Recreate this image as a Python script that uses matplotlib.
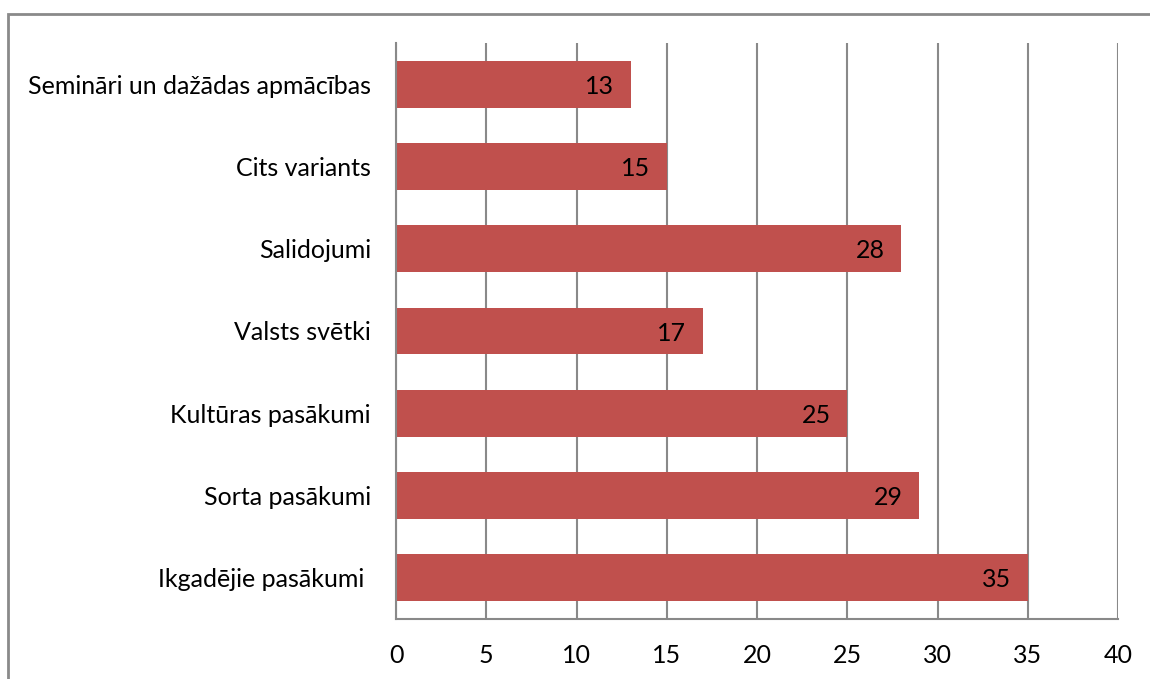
import matplotlib
matplotlib.use("Agg")
import matplotlib.pyplot as plt
from matplotlib.patches import Rectangle

categories = ["Ikgadējie pasākumi ", "Sorta pasākumi", "Kultūras pasākumi",
              "Valsts svētki", "Salidojumi", "Cits variants",
              "Semināri un dažādas apmācības"]
values = [35, 29, 25, 17, 28, 15, 13]
xticks = [0, 5, 10, 15, 20, 25, 30, 35, 40]

plt.rcParams['font.family'] = ['Lato', 'DejaVu Sans']

fig = plt.figure(figsize=(11.5, 6.79), dpi=100)
ax = fig.add_axes([396/1150, 1-619/679, (1118-396)/1150, (619-43)/679])

grid_c = "#898989"
bar_c = "#C0504D"

ypos = list(range(len(categories)))
ax.barh(ypos, values, height=0.57, color=bar_c, zorder=2)
for y, v in zip(ypos, values):
    ax.annotate(str(v), xy=(v, y), xytext=(-12, -1.5), textcoords="offset points",
                ha="right", va="center", fontsize=18, color="black", zorder=3)

ax.set_xlim(0, 40)
ax.set_ylim(-0.5, len(categories) - 0.5)
ax.set_xticks(xticks)
ax.set_xticklabels([str(t) for t in xticks], fontsize=18)
ax.set_yticks(ypos)
ax.set_yticklabels(categories, fontsize=18)
ax.tick_params(axis='x', length=0, pad=18)
ax.tick_params(axis='y', length=0, pad=18)
ax.xaxis.grid(True, color=grid_c, linewidth=1.5, zorder=0)
ax.set_axisbelow(True)
for s in ["top", "right"]:
    ax.spines[s].set_visible(False)
for s in ["left", "bottom"]:
    ax.spines[s].set_color(grid_c)
    ax.spines[s].set_linewidth(1.5)

# outer chart frame (cropped at right/bottom)
fig.patches.append(Rectangle((8/1150, -0.1), 1.2, 1 - 13.5/679 + 0.1,
                             transform=fig.transFigure, fill=False,
                             edgecolor="#8a8a8a", linewidth=2, zorder=0))

fig.savefig("out.png", dpi=100)
